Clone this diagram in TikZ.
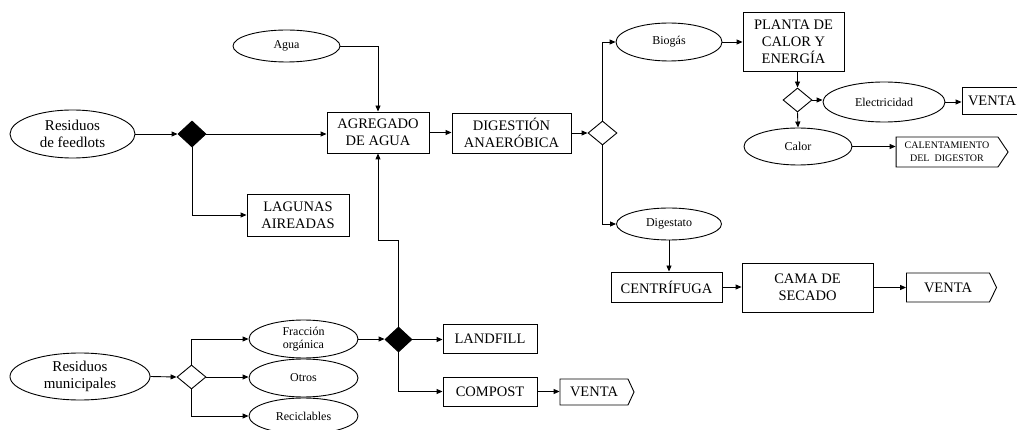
\documentclass[tikz,border=0pt]{standalone}
\usepackage{fontspec}
\setmainfont{Liberation Serif}
\usetikzlibrary{shapes.geometric,shapes.symbols,arrows.meta}
\tikzset{
  base/.style={draw=black, line width=0.9pt, inner sep=0pt, align=center},
  box/.style={base, rectangle, font=\fontsize{14.5}{17}\selectfont},
  oval/.style={base, ellipse, font=\fontsize{12}{13.5}\selectfont},
  bigoval/.style={base, ellipse, font=\fontsize{15}{17.5}\selectfont},
  blackdia/.style={base, diamond, fill=black, minimum width=28pt, minimum height=26pt},
  whitedia/.style={base, diamond, fill=white, minimum width=29pt, minimum height=24pt},
  sig/.style={base, signal, signal to=east, font=\fontsize{14.5}{17}\selectfont},
  arr/.style={line width=0.9pt, -{Triangle[length=6pt,width=5pt]}},
  ln/.style={line width=0.9pt}
}
\begin{document}
\begin{tikzpicture}[x=1pt,y=-1pt]
\useasboundingbox (0,0) rectangle (1017,430);
% nodes
\node[oval, minimum width=107pt, minimum height=32pt] (agua) at (286.5,46) {Agua};
\node[bigoval, minimum width=125pt, minimum height=48pt] (feed) at (72.5,134) {Residuos\\de feedlots};
\node[blackdia] (d1) at (192,134) {};
\node[box, minimum width=102pt, minimum height=42pt] (lag) at (298,215) {LAGUNAS\\AIREADAS};
\node[box, minimum width=102pt, minimum height=41pt] (agr) at (378,132.5) {AGREGADO\\DE AGUA};
\node[box, minimum width=119pt, minimum height=40pt] (dig) at (511.5,133) {DIGESTIÓN\\ANAERÓBICA};
\node[whitedia] (d2) at (602.5,133) {};
\node[oval, minimum width=106pt, minimum height=38pt] (bio) at (669,42) {Biogás};
\node[box, minimum width=101pt, minimum height=59pt] (planta) at (793.5,41.5) {PLANTA DE\\CALOR Y\\ENERGÍA};
\node[whitedia] (d3) at (797.5,100) {};
\node[oval, minimum width=122pt, minimum height=40pt] (elec) at (884,102) {Electricidad};
\node[box, minimum width=60pt, minimum height=27pt] (venta1) at (992,100.5) {VENTA};
\node[oval, minimum width=108pt, minimum height=37pt] (calor) at (798,146.5) {Calor};
\node[sig, signal pointer angle=112, minimum width=112pt, minimum height=30pt, font=\fontsize{10}{13}\selectfont] (calent) at (947,152) {CALENTAMIENTO\\DEL\ \ DIGESTOR};
\node[oval, minimum width=105pt, minimum height=32pt] (digest) at (669,224) {Digestato};
\node[box, minimum width=111pt, minimum height=30pt] (cent) at (666.5,287) {CENTRÍFUGA};
\node[box, minimum width=131pt, minimum height=49pt] (cama) at (807.5,287.5) {CAMA DE\\SECADO};
\node[sig, signal pointer angle=128, minimum width=90pt, minimum height=29pt] (venta2) at (948,287.5) {VENTA};
\node[bigoval, minimum width=140pt, minimum height=47pt] (muni) at (80,376.5) {Residuos\\municipales};
\node[whitedia] (d4) at (191.5,377) {};
\node[oval, minimum width=109pt, minimum height=38pt] (frac) at (303.5,339) {Fracción\\orgánica};
\node[oval, minimum width=109pt, minimum height=38pt] (otros) at (303.5,378) {Otros};
\node[oval, minimum width=109pt, minimum height=36pt] (recic) at (303.5,416) {Reciclables};
\node[blackdia, minimum width=27pt, minimum height=25pt] (d5) at (398.5,339.5) {};
\node[box, minimum width=94pt, minimum height=29pt] (land) at (490,338.5) {LANDFILL};
\node[box, minimum width=94pt, minimum height=29pt] (comp) at (490,391.5) {COMPOST};
\node[sig, signal pointer angle=130, minimum width=74pt, minimum height=26pt] (venta3) at (594,392) {VENTA};
\coordinate (b1) at (398.5,240);
% connectors
\draw[arr] (agua.east) -| (agr.north);
\draw[arr] (feed.east) -- (d1.west);
\draw[arr] (d1.east) -- (d1.east -| agr.west);
\draw[arr] (d1.south) |- (lag.west);
\draw[arr] (agr.east) -- (agr.east -| dig.west);
\draw[arr] (dig.east) -- (d2.west);
\draw[arr] (d2.north) |- (bio.west);
\draw[arr] (d2.south) |- (digest.west);
\draw[arr] (bio.east) -- (bio.east -| planta.west);
\draw[arr] (d3.north |- planta.south) -- (d3.north);
\draw[arr] (d3.east) -- (d3.east -| elec.west);
\draw[arr] (elec.east) -- (elec.east -| venta1.west);
\draw[arr] (d3.south) -- (calor.north);
\draw[arr] (calor.east) -- (calor.east -| calent.west);
\draw[arr] (digest.south) -- (digest.south |- cent.north);
\draw[arr] (cent.east) -- (cent.east -| cama.west);
\draw[arr] (cama.east) -- (cama.east -| venta2.west);
\draw[arr] (muni.east) -- (d4.west);
\draw[arr] (d4.north) |- (frac.west);
\draw[arr] (d4.east) -- (d4.east -| otros.west);
\draw[arr] (d4.south) |- (recic.west);
\draw[arr] (frac.east) -- (frac.east -| d5.west);
\draw[arr] (d5.east) -- (d5.east -| land.west);
\draw[arr] (d5.south) |- (comp.west);
\draw[arr] (comp.east) -- (comp.east -| venta3.west);
\draw[arr] (d5.north) -- (b1) -| (agr.south);
\end{tikzpicture}
\end{document}
